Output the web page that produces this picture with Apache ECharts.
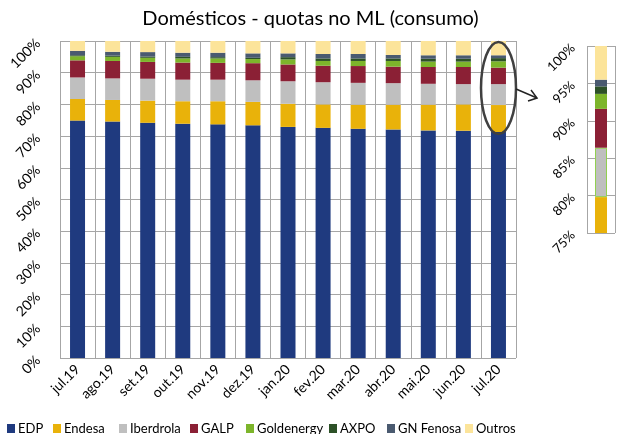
<!DOCTYPE html>
<html><head><meta charset="utf-8">
<script src="https://cdn.jsdelivr.net/npm/echarts@6/dist/echarts.min.js"></script>
<style>html,body{margin:0;padding:0;background:#fff}#c{width:621px;height:434px}</style>
</head><body><div id="c"></div>
<script>
const categories = ['jul.19','ago.19','set.19','out.19','nov.19','dez.19','jan.20','fev.20','mar.20','abr.20','mai.20','jun.20','jul.20'];
const edp        = [74.9,74.6,74.2,73.9,73.7,73.4,72.9,72.6,72.3,72.1,71.8,71.7,71.3];
const endesa     = [6.8,6.8,7.0,7.1,7.3,7.4,7.3,7.4,7.6,7.8,8.1,8.3,8.5];
const iberdrola  = [6.8,6.8,6.9,6.8,6.8,6.8,7.1,7.0,6.9,6.8,6.6,6.4,6.6];
const galp       = [5.4,5.5,5.3,5.4,5.3,5.4,5.3,5.2,5.3,5.2,5.3,5.4,5.2];
const goldenergy = [1.3,1.3,1.3,1.3,1.4,1.3,1.6,1.5,1.6,1.8,1.7,1.7,2.0];
const axpo       = [0.3,0.4,0.4,0.5,0.4,0.4,0.7,0.8,0.8,0.8,0.9,0.9,1.0];
const gnFenosa   = [1.4,1.2,1.4,1.3,1.4,1.4,1.2,1.4,1.4,1.1,1.1,1.1,0.9];
const outros     = [3.1,3.4,3.5,3.7,3.7,3.9,3.9,4.1,4.1,4.4,4.5,4.5,4.5];
const mainTicks  = [0,10,20,30,40,50,60,70,80,90,100];
const insetTicks = [75,80,85,90,95,100];

const names = ['EDP','Endesa','Iberdrola','GALP','Goldenergy','AXPO','GN Fenosa','Outros'];
const values = [edp,endesa,iberdrola,galp,goldenergy,axpo,gnFenosa,outros];
const colors = ['#1f3a7f','#e9b20a','#bfbfbf','#8b2035','#7db52b','#2d5127','#4a5a70','#fce49a'];
const legendLeft = [2,48,114,185,241,324,382,460];
const FONT = 'Lato';

const series = [];
names.forEach((n,i)=>{
  series.push({name:n,type:'bar',stack:'main',xAxisIndex:0,yAxisIndex:0,barWidth:15,
    data:values[i],itemStyle:{color:colors[i]},emphasis:{disabled:true},animation:false});
});
const last = categories.length-1;
names.forEach((n,i)=>{
  const st = {color: i===0 ? 'rgba(0,0,0,0)' : colors[i]};
  if (n==='Iberdrola'){ st.borderColor='#92d050'; st.borderWidth=1; }
  series.push({name:n,type:'bar',stack:'inset',xAxisIndex:1,yAxisIndex:1,barWidth:12,clip:true,
    data:[values[i][last]],itemStyle:st,emphasis:{disabled:true},animation:false});
});

const legends = names.map((n,i)=>({
  data:[n], left:legendLeft[i], top:417, itemWidth:8, itemHeight:9, itemGap:0,
  icon:'rect', selectedMode:false,
  textStyle:{fontFamily:FONT,fontSize:13,color:'#000',padding:[0,0,0,-2]}
}));

const gridLine = {show:true,lineStyle:{color:'#a6a6a6',width:1}};
const option = {
  animation:false,
  title:{text:'Domésticos - quotas no ML (consumo)',left:'center',top:4,
    textStyle:{fontFamily:FONT,fontSize:20,fontWeight:'normal',color:'#000'}},
  legend:legends,
  grid:[{left:60,top:41,width:456,height:317},{left:587,top:46,width:28,height:187}],
  xAxis:[
    {type:'category',gridIndex:0,data:categories,boundaryGap:true,
      axisLine:{show:false},axisTick:{show:false},splitLine:gridLine,
      axisLabel:{rotate:45,margin:9,fontFamily:FONT,fontSize:14,color:'#000',interval:0}},
    {type:'category',gridIndex:1,data:[categories[last]],axisLine:{show:false},axisTick:{show:false},
      splitLine:gridLine,axisLabel:{show:false}}
  ],
  yAxis:[
    {type:'value',gridIndex:0,min:mainTicks[0],max:mainTicks[mainTicks.length-1],interval:10,
      axisLine:{show:false},axisTick:{show:false},splitLine:gridLine,
      axisLabel:{rotate:45,margin:22,fontFamily:FONT,fontSize:14,color:'#000',formatter:'{value}%'}},
    {type:'value',gridIndex:1,min:insetTicks[0],max:insetTicks[insetTicks.length-1],interval:5,
      axisLine:{show:false},axisTick:{show:false},splitLine:gridLine,
      axisLabel:{rotate:45,margin:14,fontFamily:FONT,fontSize:13,color:'#000',formatter:'{value}%'}}
  ],
  series:series,
  graphic:[
    {type:'ellipse',shape:{cx:498.5,cy:88,rx:17.5,ry:46},style:{fill:'none',stroke:'#404040',lineWidth:2.5},z:100},
    {type:'polyline',shape:{points:[[516,89],[537,98]]},style:{stroke:'#222',lineWidth:1.5,fill:'none'},z:100},
    {type:'polyline',shape:{points:[[531,90],[537,98],[528,101]]},style:{stroke:'#222',lineWidth:1.5,fill:'none'},z:100}
  ]
};
const chart = echarts.init(document.getElementById('c'),null,{renderer:'canvas'});
chart.setOption(option);
</script></body></html>
